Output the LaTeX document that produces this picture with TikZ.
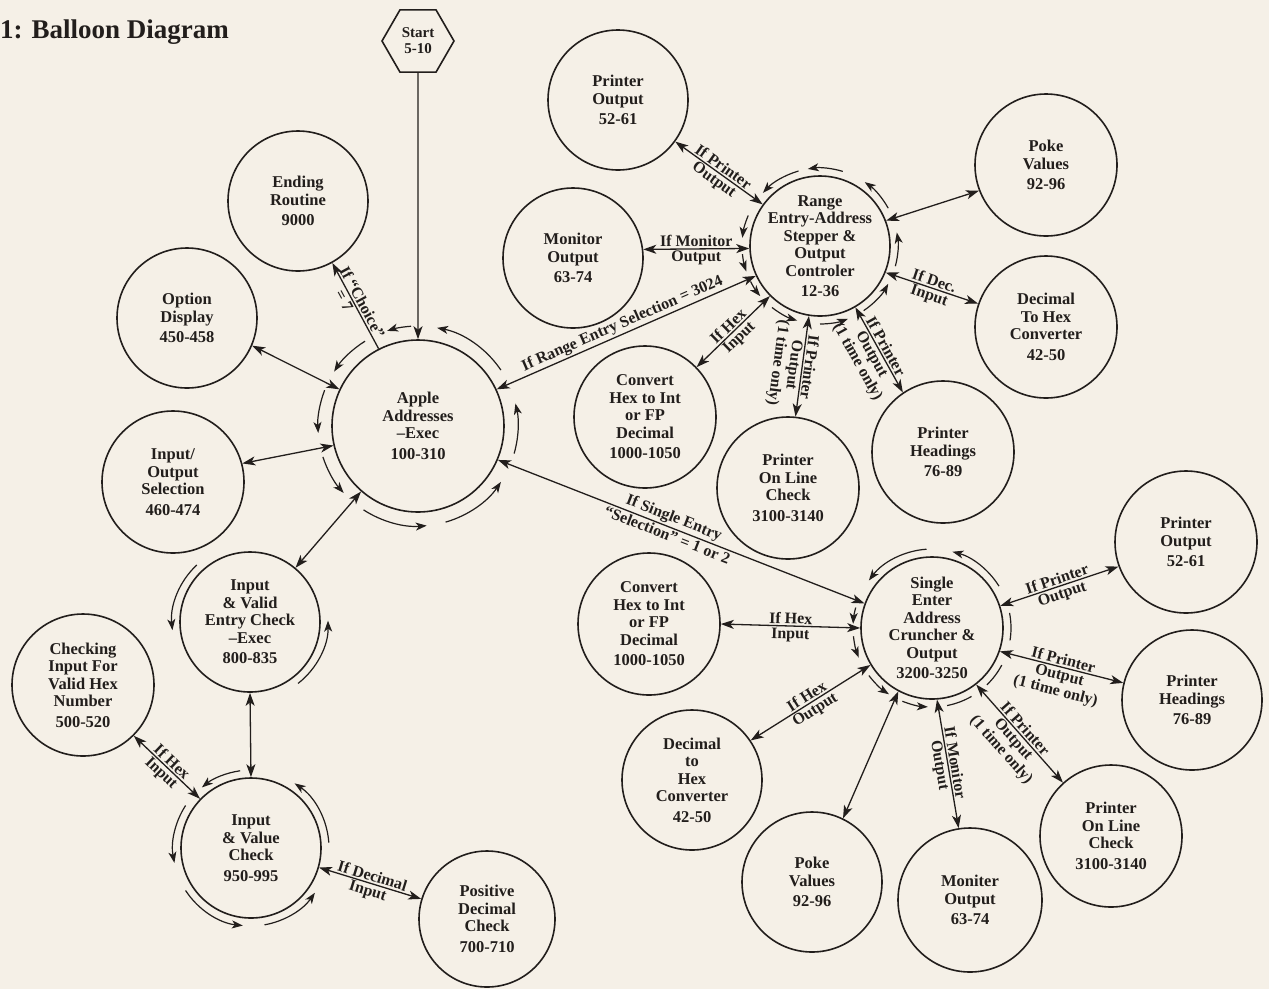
\documentclass[tikz,border=0pt]{standalone}
\usepackage{fontspec}
\setmainfont{Liberation Serif}
\usetikzlibrary{arrows.meta,shapes.geometric,calc}
\definecolor{paper}{RGB}{245,240,231}
\definecolor{ink}{RGB}{34,30,28}
\newcommand{\ball}[4]{%
  \node[ball, minimum size=#3pt] (#1) at (#2) {};
  \node[btext] at (#1.center) {#4};}
\begin{document}
\begin{tikzpicture}[x=1pt,y=1pt,
  ball/.style={circle, draw=ink, line width=1.6pt, inner sep=0pt},
  btext/.style={font=\fontsize{16.5}{17.5}\selectfont\bfseries, text=ink, align=center, inner sep=0pt},
  lab/.style={font=\fontsize{16}{16}\selectfont\bfseries, text=ink, align=center, inner sep=1.5pt, sloped, midway},
  tip/.tip={Stealth[length=13pt,width=9pt,inset=3.5pt]},
  rtip/.tip={Stealth[length=11pt,width=8pt,inset=3pt]},
  dbl/.style={draw=ink, line width=1.3pt, tip-tip},
  one/.style={draw=ink, line width=1.3pt, -tip},
  ring/.style={draw=ink, line width=1.2pt, -rtip},
  ringplain/.style={draw=ink, line width=1.2pt}]
\fill[paper] (0,0) rectangle (1269,-989);
\useasboundingbox (0,0) rectangle (1269,-989);

\node[anchor=base west, font=\fontsize{27}{29}\selectfont\bfseries, text=ink, inner sep=0pt] (title) at (0,-38) {1: Balloon Diagram};

\node[draw=ink, line width=1.6pt, regular polygon, regular polygon sides=6, minimum size=72pt, inner sep=0pt, align=center, font=\fontsize{15}{16}\selectfont\bfseries, text=ink] (start) at (418,-41) {Start\\5-10};

\ball{A}{418,-426}{172}{Apple\\Addresses\\--Exec\\[3pt]100-310}
\ball{EndR}{298,-201}{140}{Ending\\Routine\\[3pt]9000}
\ball{OptD}{187,-318}{140}{Option\\Display\\[3pt]450-458}
\ball{IOS}{173,-482}{142}{Input/\\Output\\Selection\\[3pt]460-474}
\ball{IVE}{250,-622}{140}{Input\\\& Valid\\Entry Check\\--Exec\\[3pt]800-835}
\ball{Chk}{83,-685}{142}{Checking\\Input For\\Valid Hex\\Number\\[3pt]500-520}
\ball{IVC}{251,-848}{140}{Input\\\& Value\\Check\\[3pt]950-995}
\ball{PDC}{487,-919}{136}{Positive\\Decimal\\Check\\[3pt]700-710}
\ball{PO1}{618,-100}{140}{Printer\\Output\\[3pt]52-61}
\ball{MO1}{573,-258}{140}{Monitor\\Output\\[3pt]63-74}
\ball{R}{820,-246}{140}{Range\\Entry-Address\\Stepper \&\\Output\\Controler\\[3pt]12-36}
\ball{PV1}{1046,-165}{142}{Poke\\Values\\[3pt]92-96}
\ball{DH1}{1046,-327}{142}{Decimal\\To Hex\\Converter\\[3pt]42-50}
\ball{CH1}{645,-417}{142}{Convert\\Hex to Int\\or FP\\Decimal\\[3pt]1000-1050}
\ball{POL1}{788,-488}{142}{Printer\\On Line\\Check\\[3pt]3100-3140}
\ball{PH1}{943,-452}{142}{Printer\\Headings\\[3pt]76-89}
\ball{PO2}{1186,-542}{142}{Printer\\Output\\[3pt]52-61}
\ball{CH2}{649,-624}{142}{Convert\\Hex to Int\\or FP\\Decimal\\[3pt]1000-1050}
\ball{S}{932,-628}{142}{Single\\Enter\\Address\\Cruncher \&\\Output\\[3pt]3200-3250}
\ball{PH2}{1192,-700}{140}{Printer\\Headings\\[3pt]76-89}
\ball{DH2}{692,-780}{140}{Decimal\\to\\Hex\\Converter\\[3pt]42-50}
\ball{PV2}{812,-882}{140}{Poke\\Values\\[3pt]92-96}
\ball{MO2}{970,-900}{144}{Moniter\\Output\\[3pt]63-74}
\ball{POL2}{1111,-836}{142}{Printer\\On Line\\Check\\[3pt]3100-3140}

% ring arcs
\foreach \a/\b in {34/79, 94/108, 122/147, 159/184, 198/222, 237/275, 286/326, -16/13}
  \draw[ring] ($(A.center)+(\a:100)$) arc[start angle=\a, end angle=\b, radius=100];
\foreach \a/\b in {29/55, 73/99, 106/137, 157/174, 186/199, 207/220, 232/253, -90/-69, -56/-29, -15/10}
  \draw[ring] ($(R.center)+(\a:78)$) arc[start angle=\a, end angle=\b, radius=78];
\foreach \a/\b in {32/75, 94/143, 165/177, 186/202, 217/237, 248/267}
  \draw[ring] ($(S.center)+(\a:79)$) arc[start angle=\a, end angle=\b, radius=79];
\foreach \a/\b in {281/300, 314/332, -9/11}
  \draw[ringplain] ($(S.center)+(\a:79)$) arc[start angle=\a, end angle=\b, radius=79];
\foreach \a/\b in {133/186, -52/1}
  \draw[ring] ($(IVE.center)+(\a:78)$) arc[start angle=\a, end angle=\b, radius=78];
\foreach \a/\b in {98/129, 147/191, 213/264, 280/325, 4/56}
  \draw[ring] ($(IVC.center)+(\a:78)$) arc[start angle=\a, end angle=\b, radius=78];

% connectors
\draw[one] (start.south) -- (A.90);
\draw[draw=ink, line width=1.3pt, tip-] (EndR.-61) -- node[lab,above]{If ``Choice''} node[lab,below,pos=0.4]{= 7} (A.117);
\draw[dbl] (OptD.-23) -- (A.155);
\draw[dbl] (IOS.15) -- (A.193);
\draw[dbl] (IVE.50) -- (A.229);
\draw[dbl] (A.25) -- node[lab,above]{If Range Entry Selection = 3024} (R.205);
\draw[dbl] (A.-23) -- node[lab,above,pos=0.47]{If Single Entry} node[lab,below,pos=0.47]{``Selection'' = 1 or 2} (S.160);
\draw[dbl] (IVE.-90) -- (IVC.90);
\draw[dbl] (Chk.-45) -- node[lab,above]{If Hex} node[lab,below]{Input} (IVC.136);
\draw[dbl] (IVC.-16) -- node[lab,above]{If Decimal} node[lab,below]{Input} (PDC.163);
\draw[dbl] (PO1.-36) -- node[lab,above]{If Printer} node[lab,below]{Output} (R.144);
\draw[dbl] (MO1.7) -- node[lab,above]{If Monitor} node[lab,below]{Output} (R.182);
\draw[dbl] (CH1.44) -- node[lab,above]{If Hex} node[lab,below]{Input} (R.225);
\draw[dbl] (R.261) -- node[lab,above,allow upside down]{If Printer} node[lab,below,allow upside down]{Output\\(1 time only)} (POL1.84);
\draw[dbl] (R.-60) -- node[lab,above]{If Printer} node[lab,below]{Output\\(1 time only)} (PH1.124);
\draw[dbl] (R.-22) -- node[lab,above]{If Dec.} node[lab,below]{Input} (DH1.161);
\draw[dbl] (R.21) -- (PV1.201);
\draw[dbl] (CH2.0) -- node[lab,above]{If Hex} node[lab,below]{Input} (S.180);
\draw[dbl] (DH2.34) -- node[lab,above]{If Hex} node[lab,below]{Output} (S.211);
\draw[dbl] (PV2.64) -- (S.242);
\draw[dbl] (S.274) -- node[lab,above]{If Monitor} node[lab,below]{Output} (MO2.99);
\draw[dbl] (S.-52) -- node[lab,above]{If Printer} node[lab,below]{Output\\(1 time only)} (POL2.132);
\draw[dbl] (S.-19) -- node[lab,above]{If Printer} node[lab,below]{Output\\(1 time only)} (PH2.166);
\draw[dbl] (S.18) -- node[lab,above]{If Printer} node[lab,below]{Output} (PO2.200);
\end{tikzpicture}
\end{document}
